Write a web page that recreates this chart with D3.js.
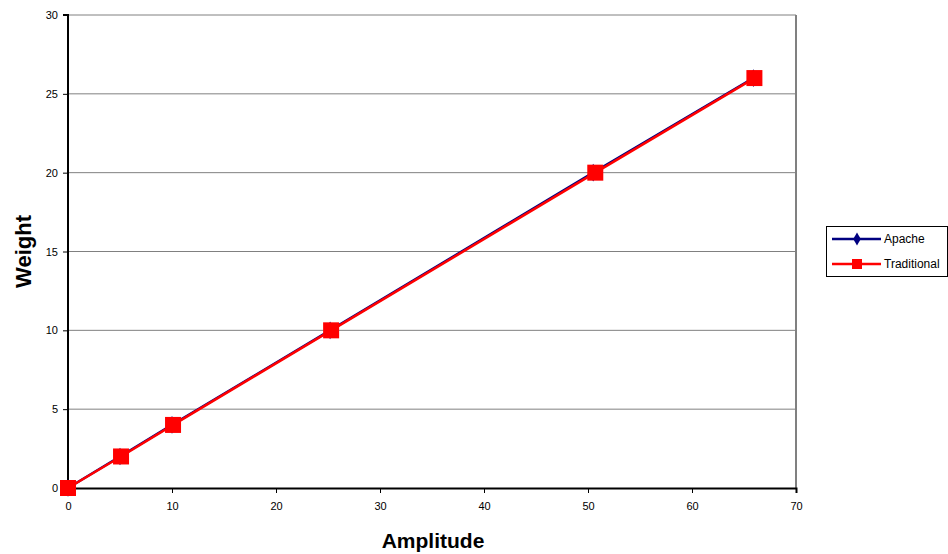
<!DOCTYPE html>
<html>
<head>
<meta charset="utf-8">
<script src="https://cdn.jsdelivr.net/npm/d3@7"></script>
<style>
  html, body { margin: 0; padding: 0; background: #fff; }
  svg { display: block; font-family: "Liberation Sans", Arial, sans-serif; }
</style>
</head>
<body>
<svg id="chart" width="948" height="554"></svg>
<script>
// Series data: amplitude (x) vs weight (y)
const apacheX = [0, 5, 10, 25.2, 50.5, 65.9];
const apacheY = [0, 2, 4, 10, 20, 26];
const traditionalX = [0, 5.1, 10.1, 25.3, 50.7, 66];
const traditionalY = [0, 2, 4, 10, 20, 26];
const xTicks = [0, 10, 20, 30, 40, 50, 60, 70];
const yTicks = [0, 5, 10, 15, 20, 25, 30];
const seriesNames = ["Apache", "Traditional"];

const svg = d3.select("#chart");
const plot = { left: 68, right: 796, top: 15, bottom: 488 };

const x = d3.scaleLinear().domain([0, 70]).range([plot.left, plot.right]);
const y = d3.scaleLinear().domain([0, 30]).range([plot.bottom, plot.top]);

// Horizontal gridlines
svg.append("g").selectAll("line").data(yTicks.filter(d => d > 0)).join("line")
  .attr("x1", plot.left).attr("x2", plot.right)
  .attr("y1", d => y(d)).attr("y2", d => y(d))
  .attr("stroke", "#808080").attr("stroke-width", 1);

// Right border
svg.append("line")
  .attr("x1", plot.right).attr("x2", plot.right)
  .attr("y1", plot.top).attr("y2", plot.bottom)
  .attr("stroke", "#808080").attr("stroke-width", 2);

// Axes
const yAxis = svg.append("g")
  .attr("transform", `translate(${plot.left},0)`)
  .call(d3.axisLeft(y).tickValues(yTicks).tickSize(5).tickPadding(5).tickFormat(d3.format("d")));
const xAxis = svg.append("g")
  .attr("transform", `translate(0,${plot.bottom})`)
  .call(d3.axisBottom(x).tickValues(xTicks).tickSize(5).tickPadding(9).tickFormat(d3.format("d")));

[xAxis, yAxis].forEach(g => {
  g.select(".domain").attr("stroke", "#000").attr("stroke-width", 2);
  g.selectAll(".tick line").attr("stroke", "#000");
  g.selectAll(".tick text").attr("fill", "#000")
    .style("font-size", "11px").style("font-family", "'Liberation Sans', Arial, sans-serif");
});
yAxis.select(".domain").attr("d", `M-5,${plot.top}H0V${plot.bottom}`);

// Axis titles
svg.append("text")
  .attr("x", (plot.left + plot.right) / 2 + 1).attr("y", 548)
  .attr("text-anchor", "middle")
  .style("font-size", "21px").style("font-weight", "bold")
  .text("Amplitude");
svg.append("text")
  .attr("transform", `translate(31,${(plot.top + plot.bottom) / 2}) rotate(-90)`)
  .attr("text-anchor", "middle")
  .style("font-size", "22px").style("font-weight", "bold")
  .text("Weight");

const line = d3.line().x(d => x(d[0])).y(d => y(d[1]));
const apache = apacheX.map((v, i) => [v, apacheY[i]]);
const traditional = traditionalX.map((v, i) => [v, traditionalY[i]]);

// Apache series (navy, diamonds)
svg.append("path").datum(apache)
  .attr("d", line).attr("fill", "none")
  .attr("stroke", "#000080").attr("stroke-width", 2.5);
const diamond = d3.symbol().type(d3.symbolDiamond).size(90);
svg.append("g").selectAll("path").data(apache).join("path")
  .attr("transform", d => `translate(${x(d[0])},${y(d[1])})`)
  .attr("d", diamond).attr("fill", "#000080");

// Traditional series (red, squares)
svg.append("path").datum(traditional)
  .attr("d", line).attr("fill", "none")
  .attr("stroke", "#ff0000").attr("stroke-width", 2.5);
svg.append("g").selectAll("rect").data(traditional).join("rect")
  .attr("x", d => x(d[0]) - 8).attr("y", d => y(d[1]) - 8)
  .attr("width", 16).attr("height", 16).attr("fill", "#ff0000");

// Legend
const legend = svg.append("g");
legend.append("rect")
  .attr("x", 826.5).attr("y", 226.5).attr("width", 121).attr("height", 50)
  .attr("fill", "#fff").attr("stroke", "#000").attr("stroke-width", 1);
const colors = ["#000080", "#ff0000"];
seriesNames.forEach((name, i) => {
  const ly = 239 + i * 25;
  legend.append("line")
    .attr("x1", 832).attr("x2", 881).attr("y1", ly).attr("y2", ly)
    .attr("stroke", colors[i]).attr("stroke-width", 2.5);
  if (i === 0) {
    legend.append("path").attr("transform", `translate(857,${ly})`)
      .attr("d", d3.symbol().type(d3.symbolDiamond).size(50)).attr("fill", colors[i]);
  } else {
    legend.append("rect").attr("x", 852).attr("y", ly - 5)
      .attr("width", 10).attr("height", 10).attr("fill", colors[i]);
  }
  legend.append("text")
    .attr("x", 884).attr("y", ly + 4)
    .style("font-size", "12px").attr("fill", "#000")
    .text(name);
});
</script>
</body>
</html>
